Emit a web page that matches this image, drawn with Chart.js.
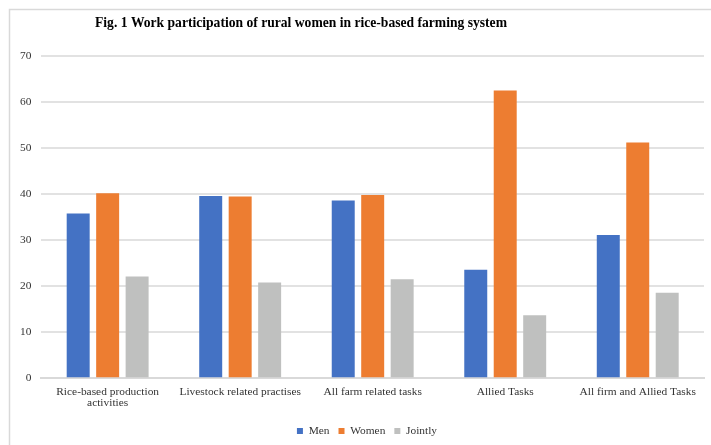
<!DOCTYPE html>
<html>
<head>
<meta charset="utf-8">
<script src="https://cdn.jsdelivr.net/npm/chart.js@4/dist/chart.umd.min.js"></script>
<style>
  html, body { margin:0; padding:0; background:#fff; overflow:hidden; }
  #wrap { position:relative; width:711px; height:445px; }
</style>
</head>
<body>
<div id="wrap"><canvas id="myChart" width="711" height="445"></canvas></div>
<script>
// values
const categorias = [
  ['Rice-based production', 'activities'],
  'Livestock related practises',
  'All farm related tasks',
  'Allied Tasks',
  'All firm and Allied Tasks'
];
const men = [35.8, 39.6, 38.6, 23.6, 31.1];
const women = [40.2, 39.5, 39.8, 62.5, 51.2];
const jointly = [22.1, 20.8, 21.5, 13.7, 18.6];
const titulo = 'Fig. 1 Work participation of rural women in rice-based farming system';

const fuente = "'Liberation Serif', 'DejaVu Serif', serif";

// frame + title drawn by hand, legend nudged right like the original
const marco = {
  id: 'marco',
  afterLayout(chart) {
    chart.legend.left += 10;
    chart.legend.right += 10;
  },
  beforeDraw(chart) {
    const c = chart.ctx;
    c.save();
    c.strokeStyle = '#d9d9d9';
    c.lineWidth = 1.5;
    c.beginPath();
    c.moveTo(9.5, 460);
    c.lineTo(9.5, 9.5);
    c.lineTo(720, 9.5);
    c.stroke();
    c.restore();
  },
  afterDraw(chart) {
    const c = chart.ctx;
    c.save();
    c.font = 'bold 13.6px ' + fuente;
    c.fillStyle = '#000';
    c.textAlign = 'center';
    c.textBaseline = 'middle';
    c.fillText(titulo, 301, 23);
    c.restore();
  }
};

const ctx = document.getElementById('myChart').getContext('2d');
const myChart = new Chart(ctx, {
  type: 'bar',
  data: {
    labels: categorias,
    datasets: [
      { label: 'Men', data: men, backgroundColor: '#4472C4' },
      { label: 'Women', data: women, backgroundColor: '#ED7D31' },
      { label: 'Jointly', data: jointly, backgroundColor: '#BFC0BF' }
    ]
  },
  options: {
    responsive: false,
    animation: false,
    devicePixelRatio: 1,
    categoryPercentage: 0.667,
    barPercentage: 0.78,
    layout: { padding: { top: 56, left: 10, right: 7, bottom: -1.7 } },
    scales: {
      x: {
        grid: { display: false, drawTicks: false },
        border: { display: true, color: '#d9d9d9', width: 2 },
        ticks: {
          padding: 7.6,
          color: '#333333',
          maxRotation: 0,
          autoSkip: false,
          font: { family: fuente, size: 11.4, lineHeight: 1.0 }
        }
      },
      y: {
        min: 0,
        max: 70,
        grid: { color: '#e2e2e2', lineWidth: 2, drawTicks: false },
        border: { display: false },
        ticks: {
          stepSize: 10,
          padding: 10,
          color: '#333333',
          font: { family: fuente, size: 11.4 }
        }
      }
    },
    plugins: {
      title: { display: false },
      tooltip: { enabled: false },
      legend: {
        position: 'bottom',
        labels: {
          boxWidth: 6,
          boxHeight: 6,
          padding: 9,
          color: '#333333',
          font: { family: fuente, size: 11.4 }
        }
      }
    }
  },
  plugins: [marco]
});
</script>
</body>
</html>
